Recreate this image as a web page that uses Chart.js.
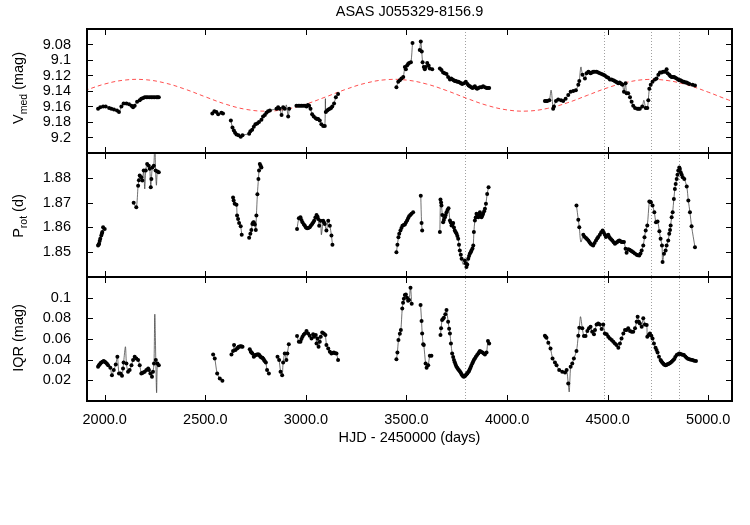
<!DOCTYPE html>
<html>
<head>
<meta charset="utf-8">
<script src="https://cdn.jsdelivr.net/npm/chart.js@4"></script>
<style>
  html, body { margin: 0; padding: 0; background: #fff; }
  #wrap { width: 750px; height: 525px; }
</style>
</head>
<body>
<div id="wrap"><canvas id="lc" width="750" height="525"></canvas></div>
<script>
// --- data (HJD - 2450000) ---
const xTicks    = [2000, 2500, 3000, 3500, 4000, 4500, 5000]
const vmedTicks = [9.08, 9.1, 9.12, 9.14, 9.16, 9.18, 9.2]
const protTicks = [1.85, 1.86, 1.87, 1.88]
const iqrTicks  = [0.02, 0.04, 0.06, 0.08, 0.1]

const markerDays = [3793, 4481, 4713, 4856]

// V_med points
const vmedDay = [1967,1978,1992,2005,2022,2033,2046,2061,2071,2083,2094,2108,2121,2133,2141,2149,2161,2174,2182,2191,2199,2207,2215,2224,2232,2240,2248,2257,2263,2269,
  2535,2545,2555,2564,2580,2588,
  2627,2635,2642,2648,2655,2665,2676,2685,2718,2724,2733,2741,2749,2758,2767,2779,2787,2796,2804,2812,2821,
  2854,2862,2870,2879,2887,2895,2912,2917,
  2953,2962,2970,2978,2986,2995,3003,3010,3016,3023,3031,3039,3049,3055,3061,3069,3077,3086,3094,3099,3106,3112,3119,3125,3131,3140,3149,3160,
  3450,3459,3467,3475,3484,3492,3497,3503,3508,3513,3522,3530,
  3566,3571,3576,3580,3586,3591,3596,3603,3610,3616,3628,
  3666,3674,3682,3690,3699,3707,3716,3722,3729,3735,3740,3746,3752,3758,3765,3771,3777,3786,3795,3803,3809,3815,3822,3828,3834,3840,3846,3851,3858,3865,3873,3881,3890,3898,3905,3911,
  4188,4194,4200,4210,4229,4233,4243,4254,4268,4279,4291,4304,4316,4329,4342,4354,4359,4375,4387,4395,4404,4410,4415,4422,4428,4436,4445,4453,4461,4470,4478,4486,4495,4503,4511,4519,4528,4535,4541,4547,4553,4559,4564,4569,4574,4581,4589,4594,4602,4611,4619,4627,4636,4647,4654,4660,4672,4689,4697,4702,4707,4714,4723,4735,4743,4752,4760,4768,4776,4785,4793,4798,4806,4812,4818,4824,4830,4836,4843,4850,4856,4862,4868,4874,4879,4886,4892,4899,4906,4922,4934]
const vmedMag = [9.163,9.161,9.160,9.160,9.162,9.163,9.164,9.165,9.167,9.160,9.156,9.156,9.157,9.159,9.161,9.159,9.154,9.152,9.150,9.149,9.148,9.148,9.148,9.148,9.148,9.148,9.148,9.148,9.148,9.148,
  9.169,9.166,9.167,9.170,9.168,9.169,
  9.178,9.187,9.191,9.194,9.196,9.197,9.199,9.197,9.195,9.192,9.190,9.186,9.183,9.182,9.180,9.177,9.173,9.171,9.168,9.166,9.165,
  9.163,9.161,9.163,9.171,9.161,9.163,9.173,9.163,
  9.159,9.159,9.159,9.159,9.159,9.159,9.160,9.158,9.159,9.163,9.170,9.173,9.175,9.176,9.176,9.178,9.183,9.185,9.185,9.167,9.165,9.164,9.163,9.162,9.160,9.156,9.148,9.144,
  9.135,9.128,9.126,9.124,9.122,9.109,9.112,9.107,9.105,9.104,9.103,9.078,
  9.087,9.076,9.089,9.103,9.109,9.112,9.109,9.104,9.107,9.111,9.112,
  9.111,9.113,9.116,9.117,9.118,9.122,9.125,9.124,9.125,9.126,9.127,9.127,9.128,9.128,9.129,9.130,9.131,9.130,9.128,9.131,9.133,9.134,9.135,9.136,9.135,9.134,9.136,9.137,9.136,9.135,9.135,9.134,9.135,9.136,9.136,9.136,
  9.153,9.153,9.153,9.152,9.163,9.160,9.153,9.151,9.152,9.153,9.150,9.145,9.141,9.140,9.139,9.132,9.127,9.119,9.124,9.117,9.115,9.116,9.117,9.116,9.115,9.115,9.115,9.116,9.117,9.118,9.119,9.120,9.122,9.123,9.125,9.125,9.126,9.127,9.128,9.129,9.130,9.129,9.130,9.131,9.132,9.141,9.130,9.143,9.143,9.148,9.154,9.159,9.162,9.163,9.163,9.163,9.160,9.162,9.162,9.152,9.137,9.132,9.128,9.125,9.124,9.119,9.116,9.116,9.115,9.115,9.112,9.117,9.119,9.121,9.122,9.122,9.122,9.123,9.124,9.125,9.126,9.126,9.127,9.128,9.128,9.129,9.129,9.130,9.131,9.132,9.133]
// where the thin curve runs away from the points
const vmedCurveDay = [2903, 3097, 4219, 4367, 4680]
const vmedCurveMag = [9.158, 9.150, 9.139, 9.109, 9.152]

// sinusoid (red dashed)
const fitDay = [1900,2000,2100,2200,2300,2400,2500,2600,2700,2800,2900,3000,3100,3200,3300,3400,3500,3600,3700,3800,3900,4000,4100,4200,4300,4400,4500,4600,4700,4800,4900,5000,5100,5200]
const fitMag = [9.1395,9.1310,9.1259,9.1254,9.1297,9.1377,9.1475,9.1569,9.1636,9.1660,9.1636,9.1569,9.1475,9.1377,9.1297,9.1254,9.1259,9.1310,9.1395,9.1495,9.1585,9.1644,9.1659,9.1625,9.1552,9.1455,9.1358,9.1285,9.1251,9.1266,9.1325,9.1415,9.1515,9.1600]

// P_rot points
const protDay = [1967,1970,1972,1975,1978,1983,1986,1988,1992,2000,
  2144,2157,2166,2170,2174,2182,2187,2194,2204,2211,2219,2224,2229,2232,2237,2244,2253,2262,2269,
  2638,2641,2646,2655,2658,2663,2668,2676,2681,
  2718,2724,2729,2734,2738,2741,2746,2751,2754,2759,2764,2767,2771,2775,2779,
  2956,2965,2973,2978,2983,2990,2995,3000,3006,3012,3019,3025,3031,3036,3041,3047,3053,3058,3061,3066,3073,3086,3090,3094,3102,3111,3119,3127,3132,
  3450,3455,3460,3464,3470,3475,3480,3486,3492,3497,3503,3508,3513,3519,3525,3533,
  3571,3575,3578,
  3666,3669,3672,3674,3678,3682,3686,3691,3695,3699,3704,3709,3716,3720,3724,3728,3732,3736,3740,3745,3749,3753,3757,3761,3765,3770,3774,3790,3794,3798,3802,3807,3811,3815,3819,3823,3828,3832,3835,3840,3844,3848,3852,3857,3861,3865,3869,3873,3877,3881,3886,3890,3895,3901,3908,
  4345,4354,4359,4379,4385,4392,4398,4404,4410,4415,4422,4428,4435,4442,4448,4453,4461,4468,4475,4481,4486,4491,4497,4503,4507,4511,4517,4523,4530,4536,4542,4548,4553,4558,4564,4569,4575,4581,4589,4594,4602,4608,4614,4620,4627,4635,4644,4650,4657,4663,4669,4677,4683,4689,4697,4707,4711,4715,4723,4732,4740,4748,4757,4763,4770,4773,4780,4788,4793,4801,4806,4810,4813,4818,4823,4829,4834,4838,4843,4847,4851,4856,4859,4863,4868,4873,4881,4893,4901,4909,4917,4934]
const protVal = [1.8527,1.8531,1.8534,1.8545,1.8554,1.8567,1.8575,1.8581,1.8601,1.8594,
  1.8699,1.8681,1.8768,1.8790,1.8809,1.8802,1.8789,1.8829,1.8829,1.8856,1.8849,1.8836,1.8762,1.8795,1.8842,1.8849,1.8829,1.8825,1.8822,
  1.8721,1.8708,1.8695,1.8691,1.8648,1.8634,1.8618,1.8605,1.8570,
  1.8558,1.8574,1.8590,1.8614,1.8620,1.8621,1.8612,1.8590,1.8648,1.8734,1.8795,1.8829,1.8856,1.8849,1.8842,
  1.8594,1.8637,1.8641,1.8630,1.8621,1.8612,1.8607,1.8600,1.8597,1.8598,1.8601,1.8608,1.8614,1.8620,1.8627,1.8640,1.8650,1.8643,1.8634,1.8607,1.8627,1.8627,1.8620,1.8614,1.8587,1.8627,1.8607,1.8567,1.8530,
  1.8500,1.8530,1.8560,1.8574,1.8587,1.8598,1.8607,1.8610,1.8612,1.8620,1.8628,1.8637,1.8645,1.8650,1.8655,1.8661,
  1.8728,1.8618,1.8588,
  1.8581,1.8712,1.8700,1.8688,1.8650,1.8621,1.8630,1.8641,1.8650,1.8661,1.8670,1.8677,1.8628,1.8620,1.8608,1.8612,1.8618,1.8600,1.8588,1.8580,1.8574,1.8565,1.8554,1.8530,1.8507,1.8490,1.8474,1.8467,1.8455,1.8440,1.8450,1.8474,1.8485,1.8494,1.8500,1.8507,1.8515,1.8527,1.8581,1.8628,1.8640,1.8655,1.8650,1.8641,1.8650,1.8661,1.8650,1.8641,1.8648,1.8655,1.8665,1.8675,1.8695,1.8735,1.8762,
  1.8688,1.8631,1.8601,1.8570,1.8562,1.8557,1.8552,1.8547,1.8540,1.8534,1.8530,1.8527,1.8537,1.8547,1.8555,1.8561,1.8570,1.8580,1.8588,1.8578,1.8570,1.8561,1.8566,1.8570,1.8562,1.8557,1.8552,1.8547,1.8540,1.8534,1.8538,1.8541,1.8545,1.8547,1.8544,1.8541,1.8541,1.8541,1.8514,1.8498,1.8512,1.8510,1.8507,1.8504,1.8500,1.8495,1.8490,1.8488,1.8487,1.8495,1.8507,1.8527,1.8560,1.8588,1.8608,1.8704,1.8703,1.8701,1.8688,1.8661,1.8621,1.8624,1.8584,1.8554,1.8527,1.8460,1.8494,1.8507,1.8527,1.8547,1.8574,1.8590,1.8608,1.8641,1.8661,1.8715,1.8755,1.8775,1.8795,1.8812,1.8829,1.8842,1.8835,1.8822,1.8812,1.8802,1.8795,1.8765,1.8708,1.8661,1.8605,1.8520]
const protCurveDay = [2199, 2249, 2257, 3077, 3782, 4367]
const protCurveVal = [1.8755, 1.8950, 1.8770, 1.8570, 1.8450, 1.8541]

// IQR points
const iqrDay = [1967,1971,1975,1979,1983,1989,1995,2000,2005,2011,2017,2028,2036,2045,2055,2063,2071,2078,2086,2091,2094,2108,2116,2124,2133,2141,2149,2157,2166,2174,2182,2186,2191,2199,2207,2216,2220,2227,2235,2240,2245,2254,2262,2269,
  2539,2547,2559,2572,2585,
  2630,2638,2643,2650,2658,2662,2666,2672,2676,2681,2685,
  2721,2726,2730,2734,2741,2745,2749,2753,2758,2762,2766,2770,2774,2779,2784,2788,2792,2796,2801,2807,2816,
  2859,2867,2874,2882,2887,2895,2903,2908,2915,
  2956,2965,2973,2978,2983,2989,2995,3003,3011,3019,3028,3036,3041,3049,3053,3058,3063,3069,3074,3081,3089,3097,3102,3111,3119,3127,3133,3139,3146,3152,3160,
  3450,3455,3460,3467,3472,3479,3483,3487,3492,3497,3503,3508,3513,3520,3526,
  3570,3575,3578,3583,3586,3595,3600,3608,3616,3624,
  3669,3672,3677,3682,3686,3693,3699,3707,3712,3716,3721,3727,3732,3736,3740,3744,3748,3752,3756,3760,3765,3769,3773,3777,3781,3785,3790,3794,3798,3802,3806,3810,3814,3818,3822,3827,3831,3835,3840,3845,3851,3857,3861,3865,3871,3878,3884,3890,3898,3905,3911,
  4188,4192,4196,4205,4216,4226,4238,4246,4259,4274,4288,4296,4304,4316,4324,4332,4345,4354,4359,4374,4382,4390,4399,4407,4415,4423,4432,4437,4445,4453,4461,4470,4478,4486,4495,4503,4511,4520,4528,4536,4544,4553,4561,4569,4578,4586,4594,4602,4611,4619,4627,4636,4644,4649,4655,4660,4669,4677,4685,4694,4697,4704,4710,4717,4723,4730,4738,4743,4748,4755,4763,4767,4771,4776,4780,4784,4788,4792,4796,4801,4806,4812,4818,4824,4830,4836,4843,4850,4856,4862,4868,4874,4879,4886,4892,4899,4906,4914,4922,4930,4939]
const iqrVal = [0.0331,0.0345,0.0354,0.0365,0.0373,0.0380,0.0386,0.0380,0.0373,0.0360,0.0347,0.0321,0.0250,0.0299,0.0354,0.0428,0.0267,0.0267,0.0244,0.0315,0.0373,0.0363,0.0283,0.0299,0.0347,0.0396,0.0428,0.0412,0.0396,0.0347,0.0267,0.0272,0.0276,0.0283,0.0299,0.0315,0.0299,0.0267,0.0234,0.0283,0.0363,0.0396,0.0363,0.0347,
  0.0451,0.0412,0.0267,0.0218,0.0196,
  0.0451,0.0483,0.0541,0.0493,0.0509,0.0515,0.0525,0.0528,0.0531,0.0528,0.0525,
  0.0502,0.0477,0.0470,0.0460,0.0428,0.0438,0.0444,0.0448,0.0451,0.0451,0.0451,0.0440,0.0428,0.0422,0.0418,0.0410,0.0396,0.0385,0.0373,0.0299,0.0267,
  0.0428,0.0396,0.0283,0.0250,0.0373,0.0460,0.0396,0.0460,0.0548,
  0.0628,0.0573,0.0573,0.0600,0.0622,0.0640,0.0654,0.0677,0.0654,0.0632,0.0606,0.0645,0.0622,0.0638,0.0557,0.0606,0.0525,0.0573,0.0622,0.0664,0.0654,0.0638,0.0541,0.0509,0.0477,0.0460,0.0465,0.0470,0.0462,0.0460,0.0396,
  0.0405,0.0470,0.0590,0.0650,0.0686,0.0896,0.0950,0.0990,0.1026,0.1030,0.1000,0.0970,0.0977,0.1097,0.0940,
  0.0929,0.0774,0.0654,0.0548,0.0541,0.0363,0.0321,0.0347,0.0438,0.0438,
  0.0638,0.0703,0.0783,0.0795,0.0806,0.0840,0.0880,0.0767,0.0700,0.0654,0.0557,0.0460,0.0425,0.0396,0.0375,0.0354,0.0335,0.0321,0.0310,0.0299,0.0288,0.0276,0.0262,0.0250,0.0240,0.0234,0.0240,0.0250,0.0258,0.0267,0.0278,0.0289,0.0305,0.0321,0.0342,0.0363,0.0380,0.0396,0.0412,0.0428,0.0444,0.0460,0.0472,0.0483,0.0476,0.0470,0.0460,0.0451,0.0470,0.0580,0.0557,
  0.0632,0.0622,0.0612,0.0564,0.0509,0.0412,0.0373,0.0347,0.0299,0.0283,0.0276,0.0299,0.0170,0.0331,0.0363,0.0412,0.0483,0.0632,0.0709,0.0703,0.0628,0.0628,0.0677,0.0703,0.0719,0.0670,0.0645,0.0686,0.0741,0.0751,0.0741,0.0696,0.0741,0.0654,0.0645,0.0622,0.0606,0.0590,0.0573,0.0557,0.0541,0.0515,0.0557,0.0606,0.0654,0.0686,0.0686,0.0703,0.0677,0.0670,0.0670,0.0703,0.0767,0.0816,0.0767,0.0751,0.0719,0.0800,0.0741,0.0735,0.0622,0.0638,0.0654,0.0632,0.0606,0.0557,0.0515,0.0493,0.0470,0.0428,0.0396,0.0385,0.0373,0.0362,0.0354,0.0350,0.0347,0.0350,0.0354,0.0358,0.0363,0.0370,0.0380,0.0392,0.0405,0.0425,0.0444,0.0452,0.0460,0.0456,0.0451,0.0448,0.0444,0.0430,0.0418,0.0410,0.0405,0.0400,0.0396,0.0390,0.0386]
const iqrCurveDay = [2103, 2249, 2258, 4309, 4365]
const iqrCurveVal = [0.0525, 0.0840, 0.0080, 0.0089, 0.0816]

const FONT = '"Liberation Sans", Arial, Helvetica, sans-serif'
const GAP = 35   // days without data -> break the curve

function pairs(days, vals) { return days.map((d, i) => ({ x: d, y: vals[i] })) }

function curve(days, vals, extraDays, extraVals) {
  const pts = pairs(days, vals).concat(pairs(extraDays, extraVals)).sort((a, b) => a.x - b.x)
  const out = []
  pts.forEach((p, i) => {
    if (i > 0 && p.x - pts[i - 1].x > GAP) out.push({ x: (p.x + pts[i - 1].x) / 2, y: null })
    out.push(p)
  })
  return out
}

const fmt = v => String(+v.toFixed(3))
const setTicks = list => s => { s.ticks = list.map(v => ({ value: v })) }

const dots  = (data, axis) => ({ data, yAxisID: axis, showLine: false, pointRadius: 2, pointBackgroundColor: '#000', pointBorderWidth: 0 })
const thin  = (data, axis) => ({ data, yAxisID: axis, borderColor: '#333', borderWidth: 0.7, pointRadius: 0, tension: 0.3, spanGaps: false })

function yAxis(min, max, ticks, reverse) {
  return {
    type: 'linear', position: 'left', stack: 'panels', stackWeight: 1,
    min, max, reverse: !!reverse,
    afterBuildTicks: setTicks(ticks),
    afterFit: s => { s.width = 87 },
    grid: { display: false }, border: { display: false },
    ticks: { autoSkip: false, padding: 8, color: '#000', font: { family: FONT, size: 14.5 }, callback: fmt }
  }
}

// frame, inward ticks, dotted markers, titles
const framePlugin = {
  id: 'frame',
  beforeDatasetsDraw(chart) {
    const { ctx, chartArea: a, scales } = chart
    ctx.save()
    ctx.strokeStyle = '#a0a0a0'
    ctx.lineWidth = 1
    ctx.setLineDash([1, 2])
    markerDays.forEach(d => {
      const x = Math.round(scales.x.getPixelForValue(d)) + 0.5
      ctx.beginPath(); ctx.moveTo(x, a.top); ctx.lineTo(x, a.bottom); ctx.stroke()
    })
    ctx.restore()
  },
  beforeDatasetDraw(chart, args) {
    const y = chart.scales[args.meta.yAxisID]
    const a = chart.chartArea
    chart.ctx.save()
    chart.ctx.beginPath()
    chart.ctx.rect(a.left, y.top, a.right - a.left, y.bottom - y.top)
    chart.ctx.clip()
  },
  afterDatasetDraw(chart) { chart.ctx.restore() },
  afterDatasetsDraw(chart) {
    const { ctx, chartArea: a, scales } = chart
    const panels = [['yV', vmedTicks], ['yP', protTicks], ['yI', iqrTicks]]
    ctx.save()
    ctx.strokeStyle = '#000'
    ctx.lineWidth = 1
    panels.forEach(([id, ticks]) => {
      const s = scales[id]
      ctx.beginPath()
      xTicks.forEach(v => {
        const x = Math.round(scales.x.getPixelForValue(v)) + 0.5
        ctx.moveTo(x, s.top); ctx.lineTo(x, s.top + 6)
        ctx.moveTo(x, s.bottom); ctx.lineTo(x, s.bottom - 6)
      })
      ticks.forEach(v => {
        const y = Math.round(s.getPixelForValue(v)) + 0.5
        ctx.moveTo(a.left, y); ctx.lineTo(a.left + 6, y)
        ctx.moveTo(a.right, y); ctx.lineTo(a.right - 6, y)
      })
      ctx.stroke()
    })
    ctx.lineWidth = 2
    panels.forEach(([id]) => {
      const s = scales[id]
      ctx.strokeRect(a.left, s.top, a.right - a.left, s.bottom - s.top)
    })
    ctx.restore()
  },
  afterDraw(chart) {
    const { ctx, chartArea: a, scales } = chart
    const cx = (a.left + a.right) / 2
    ctx.save()
    ctx.fillStyle = '#000'
    ctx.textAlign = 'center'
    ctx.textBaseline = 'middle'
    ctx.font = `14.5px ${FONT}`
    ctx.fillText('ASAS J055329-8156.9', cx, 12)
    ctx.fillText('HJD - 2450000 (days)', cx, 438)

    const labels = [
      ['yV', [['V', 0], ['med', 1], [' (mag)', 0]], -3],
      ['yP', [['P', 0], ['rot', 1], [' (d)', 0]], 1],
      ['yI', [['IQR (mag)', 0]], -1]
    ]
    labels.forEach(([id, parts, dy]) => {
      const s = scales[id]
      ctx.save()
      ctx.translate(19, (s.top + s.bottom) / 2 + dy)
      ctx.rotate(-Math.PI / 2)
      ctx.textAlign = 'left'
      const fonts = [`14.5px ${FONT}`, `10.5px ${FONT}`]
      let w = 0
      parts.forEach(([t, sub]) => { ctx.font = fonts[sub]; w += ctx.measureText(t).width })
      let x = -w / 2
      parts.forEach(([t, sub]) => {
        ctx.font = fonts[sub]
        ctx.fillText(t, x, sub ? 5 : 0)
        x += ctx.measureText(t).width
      })
      ctx.restore()
    })
    ctx.restore()
  }
}

new Chart(document.getElementById('lc'), {
  type: 'line',
  data: {
    datasets: [
      dots(pairs(vmedDay, vmedMag), 'yV'),
      dots(pairs(protDay, protVal), 'yP'),
      dots(pairs(iqrDay, iqrVal), 'yI'),
      thin(curve(vmedDay, vmedMag, vmedCurveDay, vmedCurveMag), 'yV'),
      thin(curve(protDay, protVal, protCurveDay, protCurveVal), 'yP'),
      thin(curve(iqrDay, iqrVal, iqrCurveDay, iqrCurveVal), 'yI'),
      { data: pairs(fitDay, fitMag), yAxisID: 'yV', borderColor: 'rgba(255,20,20,0.75)', borderWidth: 1, borderDash: [4, 3], pointRadius: 0, tension: 0.4 }
    ]
  },
  options: {
    responsive: false,
    animation: false,
    layout: { padding: { top: 29, right: 18, bottom: 0, left: 0 } },
    plugins: { legend: { display: false }, tooltip: { enabled: false } },
    scales: {
      x: {
        type: 'linear', position: 'bottom', min: 1912, max: 5118,
        afterBuildTicks: setTicks(xTicks),
        afterFit: s => { s.height = 124 },
        grid: { display: false }, border: { display: false },
        ticks: { autoSkip: false, maxRotation: 0, padding: 2, color: '#000', font: { family: FONT, size: 14.5 }, callback: v => v.toFixed(1) }
      },
      // stacked axes are laid out bottom-up: last one ends on top
      yI: yAxis(0, 0.12, iqrTicks),
      yP: yAxis(1.84, 1.89, protTicks),
      yV: yAxis(9.06, 9.22, vmedTicks, true)
    }
  },
  plugins: [framePlugin]
})
</script>
</body>
</html>
